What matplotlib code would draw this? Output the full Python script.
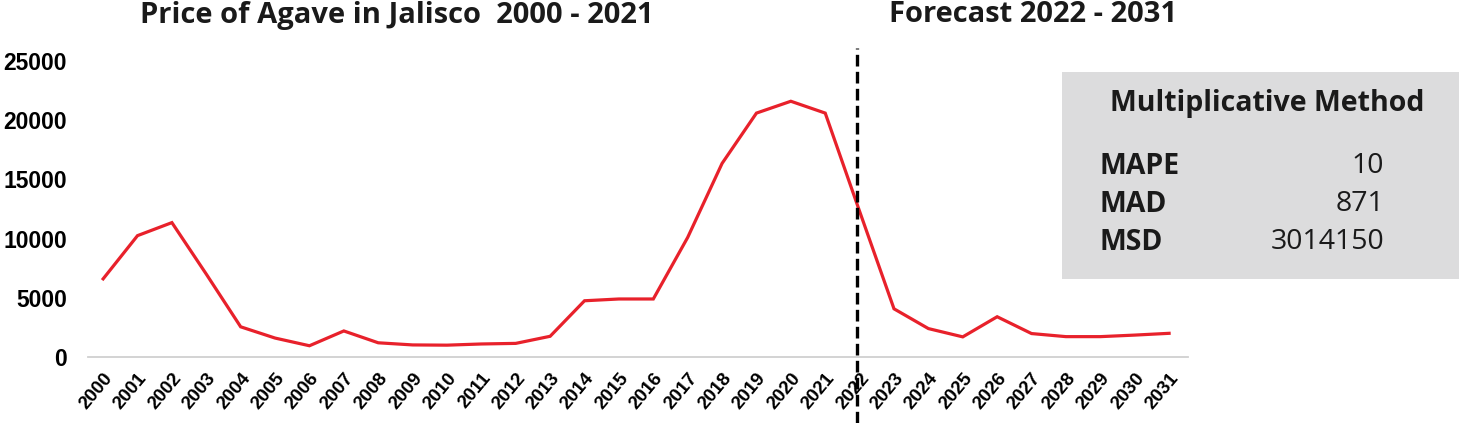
import matplotlib
matplotlib.use("Agg")
import matplotlib.pyplot as plt
from matplotlib.patches import Rectangle

years = list(range(2000, 2032))
price = [6600, 10250, 11350, 7000, 2550, 1600, 950, 2200, 1200, 1020,
         1000, 1100, 1150, 1750, 4750, 4900, 4900, 10100, 16350, 20600,
         21600, 20600, 12300, 4070, 2400, 1700, 3400, 1980, 1720, 1720,
         1850, 2000]
yticks = [0, 5000, 10000, 15000, 20000, 25000]
split_year = 2022
title_hist = "Price of Agave in Jalisco  2000 - 2021"
title_fc = "Forecast 2022 - 2031"
box_title = "Multiplicative Method"
metric_names = ["MAPE", "MAD", "MSD"]
metric_values = ["10", "871", "3014150"]

W, H = 1459, 423
fig = plt.figure(figsize=(W / 100, H / 100), dpi=100)
ax = fig.add_axes([88 / W, (H - 357) / H, 1100 / W, 296 / H])

ax.plot(years, price, color="#e8212b", lw=2.3, solid_joinstyle="miter")
ax.set_xlim(1999.56, 2031.55)
ax.set_ylim(0, 25000)

for s in ["top", "right", "left"]:
    ax.spines[s].set_visible(False)
ax.spines["bottom"].set_color("#d0d0d0")
ax.spines["bottom"].set_linewidth(1.3)

ax.set_yticks(yticks)
ax.set_yticklabels([str(v) for v in yticks], fontfamily="Liberation Sans",
                   fontweight="bold", fontsize=16.5)
ax.tick_params(axis="y", length=0, pad=15)
ax.set_xticks(years)
ax.set_xticklabels([str(y) for y in years], rotation=50, ha="right",
                   rotation_mode="anchor", fontfamily="Liberation Sans",
                   fontweight="bold", fontsize=13.5)
ax.tick_params(axis="x", length=0, pad=9)

ax.axvline(split_year - 0.08, ymin=-0.223, ymax=1.044, clip_on=False,
           color="black", lw=2.4, linestyle=(0, (3.5, 1.6)))

fig.text(397 / W, 1 - 15 / H, title_hist, ha="center", va="center",
         fontfamily="Open Sans", fontweight="bold", fontsize=21, color="#1a1a1a")
fig.text(1033 / W, 1 - 15 / H, title_fc, ha="center", va="center",
         fontfamily="Open Sans", fontweight="bold", fontsize=21, color="#1a1a1a")

# stats box
fig.patches.append(Rectangle((1062 / W, 1 - 279 / H), (W - 1062) / W, 207 / H,
                             transform=fig.transFigure, facecolor="#dcdcdd",
                             edgecolor="none", zorder=0))
fig.text(1267 / W, 1 - 104 / H, box_title, ha="center", va="center",
         fontfamily="Open Sans", fontweight="bold", fontsize=20.5, color="#1a1a1a")
for i, (n, v) in enumerate(zip(metric_names, metric_values)):
    yy = 1 - (166 + 38 * i) / H
    fig.text(1100 / W, yy, n, ha="left", va="center", fontfamily="Open Sans",
             fontweight="bold", fontsize=20.5, color="#1a1a1a")
    fig.text(1384 / W, yy, v, ha="right", va="center", fontfamily="Open Sans",
             fontsize=20.5, color="#1a1a1a")

fig.savefig("out.png", dpi=100)
